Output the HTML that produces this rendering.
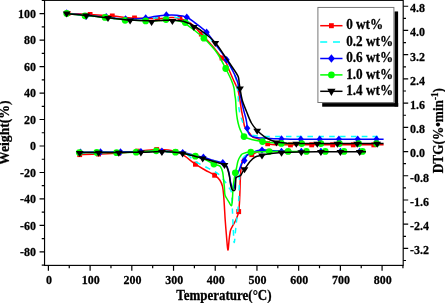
<!DOCTYPE html>
<html><head><meta charset="utf-8"><style>
html,body{margin:0;padding:0;background:#fff;width:445px;height:303px;overflow:hidden;position:relative}
</style></head><body>
<svg width="445" height="303" viewBox="0 0 445 303" style="position:absolute;left:0;top:0">
<rect x="44.55" y="0.35" width="358.65" height="265.04999999999995" fill="none" stroke="#000" stroke-width="1.15"/>
<path d="M44.55 265.16H41.75 M44.55 251.92H39.55 M44.55 238.68H41.75 M44.55 225.44H39.55 M44.55 212.20H41.75 M44.55 198.96H39.55 M44.55 185.72H41.75 M44.55 172.48H39.55 M44.55 159.24H41.75 M44.55 146.00H39.55 M44.55 132.76H41.75 M44.55 119.52H39.55 M44.55 106.28H41.75 M44.55 93.04H39.55 M44.55 79.80H41.75 M44.55 66.56H39.55 M44.55 53.32H41.75 M44.55 40.08H39.55 M44.55 26.84H41.75 M44.55 13.60H39.55 M44.55 0.36H41.75 M403.20 260.52H406.00 M403.20 248.41H408.20 M403.20 236.31H406.00 M403.20 224.20H408.20 M403.20 212.09H406.00 M403.20 199.98H408.20 M403.20 187.87H406.00 M403.20 175.77H408.20 M403.20 163.66H406.00 M403.20 151.55H408.20 M403.20 139.44H406.00 M403.20 127.33H408.20 M403.20 115.23H406.00 M403.20 103.12H408.20 M403.20 91.01H406.00 M403.20 78.90H408.20 M403.20 66.79H406.00 M403.20 54.69H408.20 M403.20 42.58H406.00 M403.20 30.47H408.20 M403.20 18.36H406.00 M403.20 6.25H408.20 M48.40 265.40V270.70 M69.25 265.40V268.20 M90.11 265.40V270.70 M110.97 265.40V268.20 M131.82 265.40V270.70 M152.68 265.40V268.20 M173.53 265.40V270.70 M194.39 265.40V268.20 M215.24 265.40V270.70 M236.10 265.40V268.20 M256.95 265.40V270.70 M277.81 265.40V268.20 M298.66 265.40V270.70 M319.51 265.40V268.20 M340.37 265.40V270.70 M361.23 265.40V268.20 M382.08 265.40V270.70 M402.94 265.40V268.20" stroke="#000" stroke-width="1.2" fill="none"/>
<g font-family="'Liberation Serif','Times New Roman',serif" font-weight="bold" font-size="12.5" fill="#000" stroke="#000" stroke-width="0.25"><text transform="translate(35.9 256.02) scale(0.96 1.07)" text-anchor="end">-80</text><text transform="translate(35.9 229.54) scale(0.96 1.07)" text-anchor="end">-60</text><text transform="translate(35.9 203.06) scale(0.96 1.07)" text-anchor="end">-40</text><text transform="translate(35.9 176.58) scale(0.96 1.07)" text-anchor="end">-20</text><text transform="translate(35.9 150.10) scale(0.96 1.07)" text-anchor="end">0</text><text transform="translate(35.9 123.62) scale(0.96 1.07)" text-anchor="end">20</text><text transform="translate(35.9 97.14) scale(0.96 1.07)" text-anchor="end">40</text><text transform="translate(35.9 70.66) scale(0.96 1.07)" text-anchor="end">60</text><text transform="translate(35.9 44.18) scale(0.96 1.07)" text-anchor="end">80</text><text transform="translate(35.9 17.70) scale(0.96 1.07)" text-anchor="end">100</text><text transform="translate(410.1 254.31) scale(0.96 1.07)">-3.2</text><text transform="translate(410.1 230.10) scale(0.96 1.07)">-2.4</text><text transform="translate(410.1 205.88) scale(0.96 1.07)">-1.6</text><text transform="translate(410.1 181.67) scale(0.96 1.07)">-0.8</text><text transform="translate(410.1 157.45) scale(0.96 1.07)">0.0</text><text transform="translate(410.1 133.23) scale(0.96 1.07)">0.8</text><text transform="translate(410.1 109.02) scale(0.96 1.07)">1.6</text><text transform="translate(410.1 84.80) scale(0.96 1.07)">2.4</text><text transform="translate(410.1 60.59) scale(0.96 1.07)">3.2</text><text transform="translate(410.1 36.37) scale(0.96 1.07)">4.0</text><text transform="translate(410.1 12.15) scale(0.96 1.07)">4.8</text><text transform="translate(49.00 283.5) scale(0.96 1.07)" text-anchor="middle">0</text><text transform="translate(90.71 283.5) scale(0.96 1.07)" text-anchor="middle">100</text><text transform="translate(132.42 283.5) scale(0.96 1.07)" text-anchor="middle">200</text><text transform="translate(174.13 283.5) scale(0.96 1.07)" text-anchor="middle">300</text><text transform="translate(215.84 283.5) scale(0.96 1.07)" text-anchor="middle">400</text><text transform="translate(257.55 283.5) scale(0.96 1.07)" text-anchor="middle">500</text><text transform="translate(299.26 283.5) scale(0.96 1.07)" text-anchor="middle">600</text><text transform="translate(340.97 283.5) scale(0.96 1.07)" text-anchor="middle">700</text><text transform="translate(382.68 283.5) scale(0.96 1.07)" text-anchor="middle">800</text></g>
<g font-family="'Liberation Serif','Times New Roman',serif" font-weight="bold" font-size="13" fill="#000" stroke="#000" stroke-width="0.25">
<text transform="translate(223.9 300.2) scale(1 1.08)" text-anchor="middle">Temperature(°C)</text>
<text transform="translate(9.3 132.7) rotate(-90) scale(1 1.05)" text-anchor="middle" font-size="13.7">Weight(%)</text>
<text transform="translate(442.8 130.7) rotate(-90) scale(1 1.05)" text-anchor="middle" font-size="13.3">DTG(%•min<tspan font-size="9" dy="-5">-1</tspan><tspan dy="5">)</tspan></text>
</g>
<g fill="none" stroke-linejoin="round" stroke-linecap="butt">
<path d="M66.70 13.40 C70.60 13.58 82.50 14.07 90.10 14.50 C97.70 14.93 105.03 15.42 112.30 16.00 C119.57 16.58 126.08 17.55 133.70 18.00 C141.32 18.45 151.80 18.77 158.00 18.70 C164.20 18.63 167.25 17.65 170.90 17.60 C174.55 17.55 176.60 17.45 179.90 18.40 C183.20 19.35 187.13 20.70 190.70 23.30 C194.27 25.90 197.75 30.30 201.30 34.00 C204.85 37.70 208.88 41.92 212.00 45.50 C215.12 49.08 217.60 52.53 220.00 55.50 C222.40 58.47 224.90 60.92 226.40 63.30 C227.90 65.68 227.90 67.18 229.00 69.80 C230.10 72.42 231.53 75.70 233.00 79.00 C234.47 82.30 236.65 86.10 237.80 89.60 C238.95 93.10 239.30 96.60 239.90 100.00 C240.50 103.40 240.88 107.00 241.40 110.00 C241.92 113.00 242.47 115.25 243.00 118.00 C243.53 120.75 243.88 124.40 244.60 126.50 C245.32 128.60 246.40 129.40 247.30 130.60 C248.20 131.80 249.13 132.67 250.00 133.70 C250.87 134.73 251.18 135.93 252.50 136.80 C253.82 137.67 256.32 138.22 257.90 138.90 C259.48 139.58 260.57 140.13 262.00 140.90 C263.43 141.67 264.83 142.90 266.50 143.50 C268.17 144.10 269.75 144.28 272.00 144.50 C274.25 144.72 277.00 144.75 280.00 144.80 C283.00 144.85 272.73 144.80 290.00 144.80 C307.27 144.80 368.00 144.80 383.60 144.80" stroke="#ff0000" stroke-width="1.5"/>
<rect x="65.60" y="10.96" width="4.80" height="5.00" fill="#ff0000"/>
<rect x="87.70" y="12.00" width="4.80" height="5.00" fill="#ff0000"/>
<rect x="109.90" y="13.50" width="4.80" height="5.00" fill="#ff0000"/>
<rect x="132.10" y="15.52" width="4.80" height="5.00" fill="#ff0000"/>
<rect x="155.10" y="16.19" width="4.80" height="5.00" fill="#ff0000"/>
<rect x="177.50" y="15.90" width="4.80" height="5.00" fill="#ff0000"/>
<rect x="198.90" y="31.50" width="4.80" height="5.00" fill="#ff0000"/>
<rect x="219.60" y="55.44" width="4.80" height="5.00" fill="#ff0000"/>
<rect x="265.30" y="141.22" width="4.80" height="5.00" fill="#ff0000"/>
<rect x="288.10" y="142.30" width="4.80" height="5.00" fill="#ff0000"/>
<rect x="309.30" y="142.30" width="4.80" height="5.00" fill="#ff0000"/>
<rect x="330.20" y="142.30" width="4.80" height="5.00" fill="#ff0000"/>
<rect x="350.90" y="142.30" width="4.80" height="5.00" fill="#ff0000"/>
<rect x="371.40" y="142.30" width="4.80" height="5.00" fill="#ff0000"/>
<path d="M66.70 13.80 C70.58 14.17 82.28 15.22 90.00 16.00 C97.72 16.78 105.50 17.87 113.00 18.50 C120.50 19.13 127.50 19.92 135.00 19.80 C142.50 19.68 151.35 18.23 158.00 17.80 C164.65 17.37 170.40 16.80 174.90 17.20 C179.40 17.60 182.07 18.93 185.00 20.20 C187.93 21.47 189.33 22.57 192.50 24.80 C195.67 27.03 200.33 30.57 204.00 33.60 C207.67 36.63 211.08 39.18 214.50 43.00 C217.92 46.82 221.67 52.33 224.50 56.50 C227.33 60.67 229.65 64.42 231.50 68.00 C233.35 71.58 234.63 74.67 235.60 78.00 C236.57 81.33 236.87 84.97 237.30 88.00 C237.73 91.03 237.93 92.87 238.20 96.20 C238.47 99.53 238.50 104.70 238.90 108.00 C239.30 111.30 239.98 113.72 240.60 116.00 C241.22 118.28 241.78 119.70 242.60 121.70 C243.42 123.70 244.52 126.20 245.50 128.00 C246.48 129.80 247.43 131.32 248.50 132.50 C249.57 133.68 250.42 134.52 251.90 135.10 C253.38 135.68 255.72 135.78 257.40 136.00 C259.08 136.22 261.23 136.33 262.00 136.40" stroke="#00ffff" stroke-width="1.5" stroke-dasharray="5.5 5.3"/>
<path d="M262.00 136.40 C265.33 136.43 262.33 136.57 282.00 136.60 C301.67 136.63 363.67 136.60 380.00 136.60" stroke="#00ffff" stroke-width="1.5" stroke-dasharray="5.5 5.3" stroke-dashoffset="8.4"/>
<path d="M66.70 13.50 C69.97 13.77 79.42 14.43 86.30 15.10 C93.18 15.77 101.45 16.82 108.00 17.50 C114.55 18.18 120.93 18.97 125.60 19.20 C130.27 19.43 132.65 19.10 136.00 18.90 C139.35 18.70 142.37 18.43 145.70 18.00 C149.03 17.57 152.55 16.77 156.00 16.30 C159.45 15.83 162.92 15.37 166.40 15.20 C169.88 15.03 173.50 14.95 176.90 15.30 C180.30 15.65 183.83 16.08 186.80 17.30 C189.77 18.52 191.40 20.10 194.70 22.60 C198.00 25.10 203.05 28.57 206.60 32.30 C210.15 36.03 212.67 40.42 216.00 45.00 C219.33 49.58 223.18 54.15 226.60 59.80 C230.02 65.45 234.30 73.38 236.50 78.90 C238.70 84.42 238.92 89.05 239.80 92.90 C240.68 96.75 241.10 98.90 241.80 102.00 C242.50 105.10 243.33 108.83 244.00 111.50 C244.67 114.17 245.33 116.00 245.80 118.00 C246.27 120.00 246.55 121.62 246.80 123.50 C247.05 125.38 246.92 127.55 247.30 129.30 C247.68 131.05 248.33 132.82 249.10 134.00 C249.87 135.18 250.75 135.82 251.90 136.40 C253.05 136.98 254.47 137.23 256.00 137.50 C257.53 137.77 258.77 137.82 261.10 138.00 C263.43 138.18 266.52 138.45 270.00 138.60 C273.48 138.75 277.00 138.80 282.00 138.90 C287.00 139.00 283.07 139.15 300.00 139.20 C316.93 139.25 369.67 139.20 383.60 139.20" stroke="#0000ff" stroke-width="1.5"/>
<path d="M66.70 9.30L69.80 13.00L66.70 16.70L63.60 13.00Z" fill="#0000ff"/>
<path d="M86.00 12.70L89.10 16.40L86.00 20.10L82.90 16.40Z" fill="#0000ff"/>
<path d="M106.20 13.10L109.30 16.80L106.20 20.50L103.10 16.80Z" fill="#0000ff"/>
<path d="M125.60 15.20L128.70 18.90L125.60 22.60L122.50 18.90Z" fill="#0000ff"/>
<path d="M145.70 14.30L148.80 18.00L145.70 21.70L142.60 18.00Z" fill="#0000ff"/>
<path d="M166.40 11.30L169.50 15.00L166.40 18.70L163.30 15.00Z" fill="#0000ff"/>
<path d="M186.80 13.60L189.90 17.30L186.80 21.00L183.70 17.30Z" fill="#0000ff"/>
<path d="M206.60 28.60L209.70 32.30L206.60 36.00L203.50 32.30Z" fill="#0000ff"/>
<path d="M226.60 56.10L229.70 59.80L226.60 63.50L223.50 59.80Z" fill="#0000ff"/>
<path d="M247.20 124.44L250.30 128.14L247.20 131.84L244.10 128.14Z" fill="#0000ff"/>
<path d="M281.50 135.19L284.60 138.89L281.50 142.59L278.40 138.89Z" fill="#0000ff"/>
<path d="M300.80 135.50L303.90 139.20L300.80 142.90L297.70 139.20Z" fill="#0000ff"/>
<path d="M319.70 135.50L322.80 139.20L319.70 142.90L316.60 139.20Z" fill="#0000ff"/>
<path d="M338.90 135.50L342.00 139.20L338.90 142.90L335.80 139.20Z" fill="#0000ff"/>
<path d="M357.70 135.50L360.80 139.20L357.70 142.90L354.60 139.20Z" fill="#0000ff"/>
<path d="M376.50 135.50L379.60 139.20L376.50 142.90L373.40 139.20Z" fill="#0000ff"/>
<path d="M66.70 13.60 C69.97 13.88 79.42 14.60 86.30 15.30 C93.18 16.00 100.70 17.00 108.00 17.80 C115.30 18.60 122.83 19.60 130.10 20.10 C137.37 20.60 146.28 20.75 151.60 20.80 C156.92 20.85 158.53 20.48 162.00 20.40 C165.47 20.32 169.40 20.15 172.40 20.30 C175.40 20.45 177.85 20.75 180.00 21.30 C182.15 21.85 182.97 22.15 185.30 23.60 C187.63 25.05 190.90 27.57 194.00 30.00 C197.10 32.43 201.07 35.62 203.90 38.20 C206.73 40.78 208.68 42.87 211.00 45.50 C213.32 48.13 215.35 50.17 217.80 54.00 C220.25 57.83 223.42 64.08 225.70 68.50 C227.98 72.92 230.12 77.25 231.50 80.50 C232.88 83.75 233.45 85.65 234.00 88.00 C234.55 90.35 234.53 92.60 234.80 94.60 C235.07 96.60 235.37 97.43 235.60 100.00 C235.83 102.57 235.92 106.83 236.20 110.00 C236.48 113.17 236.80 116.17 237.30 119.00 C237.80 121.83 238.50 124.75 239.20 127.00 C239.90 129.25 240.70 130.90 241.50 132.50 C242.30 134.10 242.32 135.43 244.00 136.60 C245.68 137.77 248.52 138.67 251.60 139.50 C254.68 140.33 259.02 141.07 262.50 141.60 C265.98 142.13 269.37 142.40 272.50 142.70 C275.63 143.00 276.72 143.25 281.30 143.40 C285.88 143.55 296.88 143.57 300.00 143.60" stroke="#00ff00" stroke-width="1.5"/>
<ellipse cx="66.70" cy="13.40" rx="3.35" ry="3.4" fill="#00ff00"/>
<ellipse cx="85.00" cy="15.80" rx="3.35" ry="3.4" fill="#00ff00"/>
<ellipse cx="105.10" cy="17.40" rx="3.35" ry="3.4" fill="#00ff00"/>
<ellipse cx="125.10" cy="20.30" rx="3.35" ry="3.4" fill="#00ff00"/>
<ellipse cx="145.70" cy="20.90" rx="3.35" ry="3.4" fill="#00ff00"/>
<ellipse cx="166.00" cy="19.60" rx="3.35" ry="3.4" fill="#00ff00"/>
<ellipse cx="185.30" cy="22.60" rx="3.35" ry="3.4" fill="#00ff00"/>
<ellipse cx="203.90" cy="38.20" rx="3.35" ry="3.4" fill="#00ff00"/>
<ellipse cx="225.70" cy="68.50" rx="3.35" ry="3.4" fill="#00ff00"/>
<ellipse cx="244.00" cy="136.60" rx="3.35" ry="3.4" fill="#00ff00"/>
<ellipse cx="262.50" cy="141.60" rx="3.35" ry="3.4" fill="#00ff00"/>
<ellipse cx="281.30" cy="143.40" rx="3.35" ry="3.4" fill="#00ff00"/>
<ellipse cx="301.70" cy="143.60" rx="3.35" ry="3.4" fill="#00ff00"/>
<ellipse cx="320.90" cy="143.60" rx="3.35" ry="3.4" fill="#00ff00"/>
<ellipse cx="339.40" cy="143.60" rx="3.35" ry="3.4" fill="#00ff00"/>
<ellipse cx="358.70" cy="143.60" rx="3.35" ry="3.4" fill="#00ff00"/>
<ellipse cx="376.50" cy="143.60" rx="3.35" ry="3.4" fill="#00ff00"/>
<path d="M66.70 13.60 C69.97 13.88 79.42 14.60 86.30 15.30 C93.18 16.00 100.70 17.00 108.00 17.80 C115.30 18.60 122.83 19.60 130.10 20.10 C137.37 20.60 146.28 20.75 151.60 20.80 C156.92 20.85 158.53 20.50 162.00 20.40 C165.47 20.30 169.40 20.13 172.40 20.20 C175.40 20.27 177.73 20.47 180.00 20.80 C182.27 21.13 183.80 21.42 186.00 22.20 C188.20 22.98 190.03 23.62 193.20 25.50 C196.37 27.38 201.33 30.67 205.00 33.50 C208.67 36.33 211.75 38.50 215.20 42.50 C218.65 46.50 222.82 53.33 225.70 57.50 C228.58 61.67 230.43 64.35 232.50 67.50 C234.57 70.65 236.98 73.82 238.10 76.40 C239.22 78.98 238.85 80.82 239.20 83.00 C239.55 85.18 239.70 86.67 240.20 89.50 C240.70 92.33 241.15 96.33 242.20 100.00 C243.25 103.67 244.97 107.67 246.50 111.50 C248.03 115.33 249.62 119.83 251.40 123.00 C253.18 126.17 255.05 128.23 257.20 130.50 C259.35 132.77 262.17 135.05 264.30 136.60 C266.43 138.15 267.98 138.88 270.00 139.80 C272.02 140.72 273.73 141.55 276.40 142.10 C279.07 142.65 282.73 142.88 286.00 143.10 C289.27 143.32 279.73 143.35 296.00 143.40 C312.27 143.45 369.00 143.40 383.60 143.40" stroke="#000000" stroke-width="1.5"/>
<path d="M62.80 11.60L70.60 11.60L66.70 17.60Z" fill="#000000"/>
<path d="M82.40 13.60L90.20 13.60L86.30 19.60Z" fill="#000000"/>
<path d="M104.10 16.10L111.90 16.10L108.00 22.10Z" fill="#000000"/>
<path d="M126.20 18.40L134.00 18.40L130.10 24.40Z" fill="#000000"/>
<path d="M147.70 19.90L155.50 19.90L151.60 25.90Z" fill="#000000"/>
<path d="M168.50 19.00L176.30 19.00L172.40 25.00Z" fill="#000000"/>
<path d="M190.00 24.90L197.80 24.90L193.90 30.90Z" fill="#000000"/>
<path d="M211.40 40.90L219.20 40.90L215.30 46.90Z" fill="#000000"/>
<path d="M236.10 86.50L243.90 86.50L240.00 92.50Z" fill="#000000"/>
<path d="M253.30 128.80L261.10 128.80L257.20 134.80Z" fill="#000000"/>
<path d="M272.50 140.40L280.30 140.40L276.40 146.40Z" fill="#000000"/>
<path d="M292.40 141.70L300.20 141.70L296.30 147.70Z" fill="#000000"/>
<path d="M313.40 141.70L321.20 141.70L317.30 147.70Z" fill="#000000"/>
<path d="M333.50 141.70L341.30 141.70L337.40 147.70Z" fill="#000000"/>
<path d="M353.30 141.70L361.10 141.70L357.20 147.70Z" fill="#000000"/>
<path d="M373.30 141.70L381.10 141.70L377.20 147.70Z" fill="#000000"/>
<path d="M79.70 154.60 C82.85 154.50 92.08 154.27 98.60 154.00 C105.12 153.73 112.32 153.47 118.80 153.00 C125.28 152.53 131.18 151.77 137.50 151.20 C143.82 150.63 151.62 149.80 156.70 149.60 C161.78 149.40 164.07 149.40 168.00 150.00 C171.93 150.60 175.73 150.83 180.30 153.20 C184.87 155.57 191.28 161.40 195.40 164.20 C199.52 167.00 201.80 168.17 205.00 170.00 C208.20 171.83 212.12 173.50 214.60 175.20 C217.08 176.90 218.58 178.33 219.90 180.20 C221.22 182.07 221.87 183.77 222.50 186.40 C223.13 189.03 223.35 192.07 223.70 196.00 C224.05 199.93 224.35 206.00 224.60 210.00 C224.85 214.00 224.90 215.83 225.20 220.00 C225.50 224.17 225.95 230.00 226.40 235.00 C226.85 240.00 227.42 249.50 227.90 250.00 C228.38 250.50 228.85 241.33 229.30 238.00 C229.75 234.67 229.95 232.18 230.60 230.00 C231.25 227.82 232.33 226.52 233.20 224.90 C234.07 223.28 235.10 221.78 235.80 220.30 C236.50 218.82 236.92 217.45 237.40 216.00 C237.88 214.55 238.35 213.88 238.70 211.60 C239.05 209.32 239.28 205.90 239.50 202.30 C239.72 198.70 239.87 193.72 240.00 190.00 C240.13 186.28 240.15 183.33 240.30 180.00 C240.45 176.67 240.52 173.42 240.90 170.00 C241.28 166.58 241.57 162.03 242.60 159.50 C243.63 156.97 245.57 155.62 247.10 154.80 C248.63 153.98 250.32 154.98 251.80 154.60 C253.28 154.22 254.30 153.15 256.00 152.50 C257.70 151.85 259.67 151.02 262.00 150.70 C264.33 150.38 266.67 150.52 270.00 150.60 C273.33 150.68 278.67 151.09 282.00 151.20 C285.33 151.31 288.67 151.27 290.00 151.28" stroke="#ff0000" stroke-width="1.5"/>
<rect x="77.30" y="152.10" width="4.80" height="5.00" fill="#ff0000"/>
<rect x="96.20" y="151.50" width="4.80" height="5.00" fill="#ff0000"/>
<rect x="116.40" y="150.50" width="4.80" height="5.00" fill="#ff0000"/>
<rect x="135.10" y="148.70" width="4.80" height="5.00" fill="#ff0000"/>
<rect x="154.30" y="147.10" width="4.80" height="5.00" fill="#ff0000"/>
<rect x="173.40" y="149.53" width="4.80" height="5.00" fill="#ff0000"/>
<rect x="193.00" y="161.70" width="4.80" height="5.00" fill="#ff0000"/>
<rect x="212.20" y="172.70" width="4.80" height="5.00" fill="#ff0000"/>
<rect x="236.30" y="209.10" width="4.80" height="5.00" fill="#ff0000"/>
<rect x="249.40" y="152.10" width="4.80" height="5.00" fill="#ff0000"/>
<path d="M79.70 153.00 C89.75 152.83 123.02 152.02 140.00 152.00 C156.98 151.98 172.47 151.35 181.60 152.90 C190.73 154.45 190.40 158.77 194.80 161.30 C199.20 163.83 204.05 165.95 208.00 168.10 C211.95 170.25 215.50 171.72 218.50 174.20 C221.50 176.68 224.17 180.62 226.00 183.00 C227.83 185.38 228.58 186.83 229.50 188.50 C230.42 190.17 231.02 189.42 231.50 193.00 C231.98 196.58 232.10 203.83 232.40 210.00 C232.70 216.17 233.00 224.58 233.30 230.00 C233.60 235.42 233.85 242.17 234.20 242.50 C234.55 242.83 235.03 235.42 235.40 232.00 C235.77 228.58 236.03 225.22 236.40 222.00 C236.77 218.78 237.22 216.37 237.60 212.70 C237.98 209.03 238.42 204.62 238.70 200.00 C238.98 195.38 239.08 190.00 239.30 185.00 C239.52 180.00 239.47 174.33 240.00 170.00 C240.53 165.67 241.18 161.67 242.50 159.00 C243.82 156.33 245.82 155.25 247.90 154.00 C249.98 152.75 252.65 152.08 255.00 151.50 C257.35 150.92 257.50 150.55 262.00 150.50 C266.50 150.45 277.33 151.07 282.00 151.20 C286.67 151.33 288.67 151.27 290.00 151.29" stroke="#00ffff" stroke-width="1.5" stroke-dasharray="5.5 5.3"/>
<path d="M79.70 152.20 C82.85 152.17 92.08 152.03 98.60 152.00 C105.12 151.97 111.75 152.07 118.80 152.00 C125.85 151.93 133.72 151.78 140.90 151.60 C148.08 151.42 156.72 150.92 161.90 150.90 C167.08 150.88 168.53 151.23 172.00 151.50 C175.47 151.77 179.20 151.93 182.70 152.50 C186.20 153.07 189.55 154.10 193.00 154.90 C196.45 155.70 200.07 156.40 203.40 157.30 C206.73 158.20 209.82 159.32 213.00 160.30 C216.18 161.28 220.23 162.25 222.50 163.20 C224.77 164.15 225.52 164.37 226.60 166.00 C227.68 167.63 228.33 170.25 229.00 173.00 C229.67 175.75 230.05 180.08 230.60 182.50 C231.15 184.92 231.68 186.62 232.30 187.50 C232.92 188.38 233.83 188.72 234.30 187.80 C234.77 186.88 234.88 183.88 235.10 182.00 C235.32 180.12 235.12 178.00 235.60 176.50 C236.08 175.00 236.95 175.17 238.00 173.00 C239.05 170.83 240.83 165.57 241.90 163.50 C242.97 161.43 243.57 161.95 244.40 160.60 C245.23 159.25 245.33 156.85 246.90 155.40 C248.47 153.95 251.28 152.78 253.80 151.90 C256.32 151.02 259.13 150.32 262.00 150.10 C264.87 149.88 267.75 150.38 271.00 150.60 C274.25 150.82 278.00 151.27 281.50 151.40 C285.00 151.53 290.25 151.40 292.00 151.40" stroke="#0000ff" stroke-width="1.5"/>
<path d="M80.50 148.49L83.60 152.19L80.50 155.89L77.40 152.19Z" fill="#0000ff"/>
<path d="M100.50 148.30L103.60 152.00L100.50 155.70L97.40 152.00Z" fill="#0000ff"/>
<path d="M120.50 148.27L123.60 151.97L120.50 155.67L117.40 151.97Z" fill="#0000ff"/>
<path d="M140.90 147.90L144.00 151.60L140.90 155.30L137.80 151.60Z" fill="#0000ff"/>
<path d="M161.90 147.50L165.00 151.20L161.90 154.90L158.80 151.20Z" fill="#0000ff"/>
<path d="M182.70 148.90L185.80 152.60L182.70 156.30L179.60 152.60Z" fill="#0000ff"/>
<path d="M203.40 153.50L206.50 157.20L203.40 160.90L200.30 157.20Z" fill="#0000ff"/>
<path d="M222.80 159.10L225.90 162.80L222.80 166.50L219.70 162.80Z" fill="#0000ff"/>
<path d="M244.40 156.90L247.50 160.60L244.40 164.30L241.30 160.60Z" fill="#0000ff"/>
<path d="M262.00 146.40L265.10 150.10L262.00 153.80L258.90 150.10Z" fill="#0000ff"/>
<path d="M281.50 147.70L284.60 151.40L281.50 155.10L278.40 151.40Z" fill="#0000ff"/>
<path d="M301.30 147.70L304.40 151.40L301.30 155.10L298.20 151.40Z" fill="#0000ff"/>
<path d="M320.90 147.70L324.00 151.40L320.90 155.10L317.80 151.40Z" fill="#0000ff"/>
<path d="M340.40 147.70L343.50 151.40L340.40 155.10L337.30 151.40Z" fill="#0000ff"/>
<path d="M359.70 147.70L362.80 151.40L359.70 155.10L356.60 151.40Z" fill="#0000ff"/>
<path d="M79.70 152.60 C82.85 152.57 92.08 152.38 98.60 152.40 C105.12 152.42 112.40 152.73 118.80 152.70 C125.20 152.67 130.68 152.52 137.00 152.20 C143.32 151.88 150.28 150.80 156.70 150.80 C163.12 150.80 170.78 151.72 175.50 152.20 C180.22 152.68 181.68 153.03 185.00 153.70 C188.32 154.37 192.07 155.23 195.40 156.20 C198.73 157.17 201.92 158.20 205.00 159.50 C208.08 160.80 211.73 163.03 213.90 164.00 C216.07 164.97 216.88 164.83 218.00 165.30 C219.12 165.77 219.83 165.68 220.60 166.80 C221.37 167.92 222.13 170.13 222.60 172.00 C223.07 173.87 223.12 175.60 223.40 178.00 C223.68 180.40 224.05 183.65 224.30 186.40 C224.55 189.15 224.53 192.57 224.90 194.50 C225.27 196.43 225.82 196.72 226.50 198.00 C227.18 199.28 228.18 200.90 229.00 202.20 C229.82 203.50 230.87 205.83 231.40 205.80 C231.93 205.77 232.00 203.63 232.20 202.00 C232.40 200.37 232.48 197.87 232.60 196.00 C232.72 194.13 232.73 192.97 232.90 190.80 C233.07 188.63 233.20 186.00 233.60 183.00 C234.00 180.00 234.82 175.30 235.30 172.80 C235.78 170.30 236.05 169.97 236.50 168.00 C236.95 166.03 237.35 162.97 238.00 161.00 C238.65 159.03 239.57 157.43 240.40 156.20 C241.23 154.97 241.32 154.28 243.00 153.60 C244.68 152.92 246.10 152.43 250.50 152.10 C254.90 151.77 263.12 151.72 269.40 151.60 C275.68 151.48 283.10 151.43 288.20 151.40 C293.30 151.37 298.03 151.40 300.00 151.40" stroke="#00ff00" stroke-width="1.5"/>
<ellipse cx="79.30" cy="152.60" rx="3.35" ry="3.4" fill="#00ff00"/>
<ellipse cx="96.80" cy="152.42" rx="3.35" ry="3.4" fill="#00ff00"/>
<ellipse cx="116.60" cy="152.67" rx="3.35" ry="3.4" fill="#00ff00"/>
<ellipse cx="136.20" cy="152.22" rx="3.35" ry="3.4" fill="#00ff00"/>
<ellipse cx="156.20" cy="150.84" rx="3.35" ry="3.4" fill="#00ff00"/>
<ellipse cx="175.50" cy="152.20" rx="3.35" ry="3.4" fill="#00ff00"/>
<ellipse cx="195.40" cy="156.20" rx="3.35" ry="3.4" fill="#00ff00"/>
<ellipse cx="213.90" cy="164.00" rx="3.35" ry="3.4" fill="#00ff00"/>
<ellipse cx="235.30" cy="172.80" rx="3.35" ry="3.4" fill="#00ff00"/>
<ellipse cx="250.80" cy="152.09" rx="3.35" ry="3.4" fill="#00ff00"/>
<ellipse cx="269.20" cy="151.61" rx="3.35" ry="3.4" fill="#00ff00"/>
<ellipse cx="288.10" cy="151.40" rx="3.35" ry="3.4" fill="#00ff00"/>
<ellipse cx="306.40" cy="151.40" rx="3.35" ry="3.4" fill="#00ff00"/>
<ellipse cx="325.30" cy="151.40" rx="3.35" ry="3.4" fill="#00ff00"/>
<ellipse cx="344.00" cy="151.40" rx="3.35" ry="3.4" fill="#00ff00"/>
<ellipse cx="362.50" cy="151.40" rx="3.35" ry="3.4" fill="#00ff00"/>
<path d="M79.70 152.60 C82.85 152.57 92.08 152.43 98.60 152.40 C105.12 152.37 111.75 152.43 118.80 152.40 C125.85 152.37 133.72 152.33 140.90 152.20 C148.08 152.07 156.72 151.63 161.90 151.60 C167.08 151.57 168.55 151.72 172.00 152.00 C175.45 152.28 179.27 152.70 182.60 153.30 C185.93 153.90 188.65 154.78 192.00 155.60 C195.35 156.42 199.20 157.25 202.70 158.20 C206.20 159.15 209.37 160.23 213.00 161.30 C216.63 162.37 222.13 163.50 224.50 164.60 C226.87 165.70 226.40 166.08 227.20 167.90 C228.00 169.72 228.75 172.85 229.30 175.50 C229.85 178.15 230.12 181.62 230.50 183.80 C230.88 185.98 231.08 187.47 231.60 188.60 C232.12 189.73 233.00 190.47 233.60 190.60 C234.20 190.73 234.87 190.67 235.20 189.40 C235.53 188.13 235.45 184.93 235.60 183.00 C235.75 181.07 235.70 178.87 236.10 177.80 C236.50 176.73 237.22 177.03 238.00 176.60 C238.78 176.17 239.88 176.25 240.80 175.20 C241.72 174.15 242.70 171.57 243.50 170.30 C244.30 169.03 244.52 169.07 245.60 167.60 C246.68 166.13 248.40 163.27 250.00 161.50 C251.60 159.73 253.20 158.03 255.20 157.00 C257.20 155.97 259.37 155.90 262.00 155.30 C264.63 154.70 267.75 153.88 271.00 153.40 C274.25 152.92 276.42 152.65 281.50 152.40 C286.58 152.15 294.92 152.00 301.50 151.90 C308.08 151.80 314.32 151.82 321.00 151.80 C327.68 151.78 334.88 151.80 341.60 151.80 C348.32 151.80 357.23 151.80 361.30 151.80 C365.37 151.80 365.22 151.80 366.00 151.80" stroke="#000000" stroke-width="1.5"/>
<path d="M75.80 150.90L83.60 150.90L79.70 156.90Z" fill="#000000"/>
<path d="M94.70 150.70L102.50 150.70L98.60 156.70Z" fill="#000000"/>
<path d="M114.90 150.70L122.70 150.70L118.80 156.70Z" fill="#000000"/>
<path d="M137.00 150.50L144.80 150.50L140.90 156.50Z" fill="#000000"/>
<path d="M158.00 149.90L165.80 149.90L161.90 155.90Z" fill="#000000"/>
<path d="M178.70 151.60L186.50 151.60L182.60 157.60Z" fill="#000000"/>
<path d="M198.80 156.50L206.60 156.50L202.70 162.50Z" fill="#000000"/>
<path d="M220.60 162.90L228.40 162.90L224.50 168.90Z" fill="#000000"/>
<path d="M240.60 167.31L248.40 167.31L244.50 173.31Z" fill="#000000"/>
<path d="M258.10 153.60L265.90 153.60L262.00 159.60Z" fill="#000000"/>
<path d="M277.60 150.70L285.40 150.70L281.50 156.70Z" fill="#000000"/>
<path d="M297.40 150.21L305.20 150.21L301.30 156.21Z" fill="#000000"/>
<path d="M317.00 150.10L324.80 150.10L320.90 156.10Z" fill="#000000"/>
<path d="M336.50 150.10L344.30 150.10L340.40 156.10Z" fill="#000000"/>
<path d="M355.80 150.10L363.60 150.10L359.70 156.10Z" fill="#000000"/>
</g>
<rect x="394.5" y="11.45" width="3.6" height="95.05" fill="#000"/>
<rect x="322.2" y="103.1" width="76.0" height="3.6" fill="#000"/>
<rect x="317.9" y="7.45" width="76.0" height="95.05" fill="#fff" stroke="#777" stroke-width="1"/>
<path d="M320.2 25.70H342.5" stroke="#ff0000" stroke-width="1.5"/>
<rect x="329.00" y="23.20" width="4.80" height="5.00" fill="#ff0000"/>
<text transform="translate(346.2 29.30) scale(1 1.05)" font-family="'Liberation Serif','Times New Roman',serif" font-weight="bold" font-size="13.2" fill="#000" stroke="#000" stroke-width="0.25">0 wt%</text>
<path d="M320.2 42.10H342.5" stroke="#00ffff" stroke-width="1.5" stroke-dasharray="7 5.8"/>
<text transform="translate(346.2 45.70) scale(1 1.05)" font-family="'Liberation Serif','Times New Roman',serif" font-weight="bold" font-size="13.2" fill="#000" stroke="#000" stroke-width="0.25">0.2 wt%</text>
<path d="M320.2 58.50H342.5" stroke="#0000ff" stroke-width="1.5"/>
<path d="M331.40 54.20L334.85 58.50L331.40 62.80L327.95 58.50Z" fill="#0000ff"/>
<text transform="translate(346.2 62.10) scale(1 1.05)" font-family="'Liberation Serif','Times New Roman',serif" font-weight="bold" font-size="13.2" fill="#000" stroke="#000" stroke-width="0.25">0.6 wt%</text>
<path d="M320.2 74.90H342.5" stroke="#00ff00" stroke-width="1.5"/>
<ellipse cx="331.40" cy="74.90" rx="3.35" ry="3.4" fill="#00ff00"/>
<text transform="translate(346.2 78.50) scale(1 1.05)" font-family="'Liberation Serif','Times New Roman',serif" font-weight="bold" font-size="13.2" fill="#000" stroke="#000" stroke-width="0.25">1.0 wt%</text>
<path d="M320.2 91.30H342.5" stroke="#000000" stroke-width="1.5"/>
<path d="M327.30 88.80L335.50 88.80L331.40 95.90Z" fill="#000000"/>
<text transform="translate(346.2 94.90) scale(1 1.05)" font-family="'Liberation Serif','Times New Roman',serif" font-weight="bold" font-size="13.2" fill="#000" stroke="#000" stroke-width="0.25">1.4 wt%</text>
</svg>
</body></html>
